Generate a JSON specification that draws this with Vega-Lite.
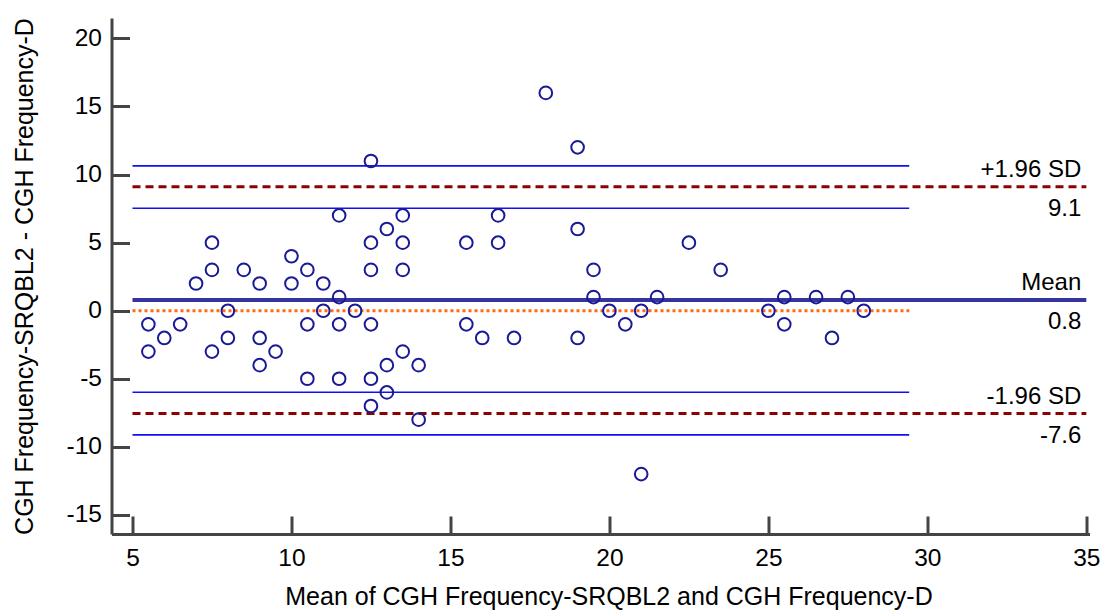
{
  "$schema": "https://vega.github.io/schema/vega-lite/v6.json",
  "width": 978,
  "height": 516,
  "autosize": {"type": "none"},
  "padding": {"left": 111.5, "top": 18, "right": 10, "bottom": 79},
  "background": "white",
  "config": {
    "view": {"stroke": null},
    "font": "Liberation Sans",
    "axis": {
      "grid": false,
      "domainColor": "#444444",
      "domainWidth": 3,
      "tickColor": "#444444",
      "tickWidth": 3,
      "tickSize": -18,
      "labelFont": "Liberation Sans",
      "labelFontSize": 24.5,
      "labelColor": "#000000",
      "labelExpr": "'' + datum.value",
      "titleFont": "Liberation Sans",
      "titleFontSize": 25,
      "titleFontWeight": "normal",
      "titleColor": "#000000"
    }
  },
  "datasets": {
    "points": [
      {"mean": 5.5, "diff": -1}, {"mean": 5.5, "diff": -3}, {"mean": 6, "diff": -2}, {"mean": 6.5, "diff": -1},
      {"mean": 7, "diff": 2}, {"mean": 7.5, "diff": 5}, {"mean": 7.5, "diff": 3}, {"mean": 7.5, "diff": -3},
      {"mean": 8, "diff": 0}, {"mean": 8, "diff": -2}, {"mean": 8.5, "diff": 3}, {"mean": 9, "diff": 2},
      {"mean": 9, "diff": -2}, {"mean": 9, "diff": -4}, {"mean": 9.5, "diff": -3}, {"mean": 10, "diff": 4},
      {"mean": 10, "diff": 2}, {"mean": 10.5, "diff": 3}, {"mean": 10.5, "diff": -1}, {"mean": 10.5, "diff": -5},
      {"mean": 11, "diff": 2}, {"mean": 11, "diff": 0}, {"mean": 11.5, "diff": 7}, {"mean": 11.5, "diff": 1},
      {"mean": 11.5, "diff": -1}, {"mean": 11.5, "diff": -5}, {"mean": 12, "diff": 0}, {"mean": 12.5, "diff": 11},
      {"mean": 12.5, "diff": 5}, {"mean": 12.5, "diff": 3}, {"mean": 12.5, "diff": -1}, {"mean": 12.5, "diff": -5},
      {"mean": 12.5, "diff": -7}, {"mean": 13, "diff": 6}, {"mean": 13, "diff": -4}, {"mean": 13, "diff": -6},
      {"mean": 13.5, "diff": 7}, {"mean": 13.5, "diff": 5}, {"mean": 13.5, "diff": 3}, {"mean": 13.5, "diff": -3},
      {"mean": 14, "diff": -4}, {"mean": 14, "diff": -8}, {"mean": 15.5, "diff": 5}, {"mean": 15.5, "diff": -1},
      {"mean": 16, "diff": -2}, {"mean": 16.5, "diff": 7}, {"mean": 16.5, "diff": 5}, {"mean": 17, "diff": -2},
      {"mean": 18, "diff": 16}, {"mean": 19, "diff": 12}, {"mean": 19, "diff": 6}, {"mean": 19, "diff": -2},
      {"mean": 19.5, "diff": 3}, {"mean": 19.5, "diff": 1}, {"mean": 20, "diff": 0}, {"mean": 20.5, "diff": -1},
      {"mean": 21, "diff": 0}, {"mean": 21, "diff": -12}, {"mean": 21.5, "diff": 1}, {"mean": 22.5, "diff": 5},
      {"mean": 23.5, "diff": 3}, {"mean": 25, "diff": 0}, {"mean": 25.5, "diff": 1}, {"mean": 25.5, "diff": -1},
      {"mean": 26.5, "diff": 1}, {"mean": 27, "diff": -2}, {"mean": 27.5, "diff": 1}, {"mean": 28, "diff": 0}
    ],
    "ci": [
      {"y": 10.64, "x1": 5, "x2": 29.43},
      {"y": 7.53, "x1": 5, "x2": 29.43},
      {"y": -5.99, "x1": 5, "x2": 29.43},
      {"y": -9.12, "x1": 5, "x2": 29.43}
    ],
    "zero": [{"y": 0, "x1": 5, "x2": 29.43}],
    "meanline": [{"y": 0.78, "x1": 5, "x2": 35}],
    "sd": [
      {"y": 9.1, "x1": 5, "x2": 35},
      {"y": -7.55, "x1": 5, "x2": 35}
    ],
    "labels": [
      {"y": 9.1, "top": "+1.96 SD", "bottom": "9.1"},
      {"y": 0.78, "top": "Mean", "bottom": "0.8"},
      {"y": -7.55, "top": "-1.96 SD", "bottom": "-7.6"}
    ]
  },
  "layer": [
    {
      "data": {"name": "ci"},
      "mark": {"type": "rule", "color": "#1010f0", "strokeWidth": 1.6},
      "encoding": {
        "x": {"field": "x1", "type": "quantitative", "scale": {"domain": [4.34, 35.1], "nice": false, "zero": false},
          "axis": {"values": [5, 10, 15, 20, 25, 30, 35], "labelPadding": 30, "title": "Mean of CGH Frequency-SRQBL2 and CGH Frequency-D", "titleY": 70, "titleBaseline": "alphabetic", "titleX": 497}},
        "x2": {"field": "x2"},
        "y": {"field": "y", "type": "quantitative", "scale": {"domain": [-16.4, 21.5], "nice": false, "zero": false},
          "axis": {"values": [-15, -10, -5, 0, 5, 10, 15, 20], "labelPadding": 28, "title": "CGH Frequency-SRQBL2 - CGH Frequency-D", "titleX": -87, "titleBaseline": "middle"}}
      }
    },
    {
      "data": {"name": "zero"},
      "mark": {"type": "rule", "color": "#ff6a10", "strokeWidth": 3, "strokeDash": [3, 3]},
      "encoding": {
        "x": {"field": "x1", "type": "quantitative"},
        "x2": {"field": "x2"},
        "y": {"field": "y", "type": "quantitative"}
      }
    },
    {
      "data": {"name": "sd"},
      "mark": {"type": "rule", "color": "#8b0000", "strokeWidth": 3, "strokeDash": [8, 5]},
      "encoding": {
        "x": {"field": "x1", "type": "quantitative"},
        "x2": {"field": "x2"},
        "y": {"field": "y", "type": "quantitative"}
      }
    },
    {
      "data": {"name": "meanline"},
      "mark": {"type": "rule", "color": "#3434a0", "strokeWidth": 4},
      "encoding": {
        "x": {"field": "x1", "type": "quantitative"},
        "x2": {"field": "x2"},
        "y": {"field": "y", "type": "quantitative"}
      }
    },
    {
      "data": {"name": "points"},
      "mark": {"type": "point", "shape": "circle", "filled": false, "color": "#1a1a96", "strokeWidth": 2, "size": 160, "opacity": 1},
      "encoding": {
        "x": {"field": "mean", "type": "quantitative"},
        "y": {"field": "diff", "type": "quantitative"}
      }
    },
    {
      "data": {"name": "labels"},
      "mark": {"type": "text", "align": "right", "baseline": "middle", "dy": -17, "dx": -5, "fontSize": 24, "color": "#000000", "font": "Liberation Sans"},
      "encoding": {
        "x": {"datum": 35, "type": "quantitative"},
        "y": {"field": "y", "type": "quantitative"},
        "text": {"field": "top"}
      }
    },
    {
      "data": {"name": "labels"},
      "mark": {"type": "text", "align": "right", "baseline": "middle", "dy": 22, "dx": -5, "fontSize": 24, "color": "#000000", "font": "Liberation Sans"},
      "encoding": {
        "x": {"datum": 35, "type": "quantitative"},
        "y": {"field": "y", "type": "quantitative"},
        "text": {"field": "bottom"}
      }
    }
  ]
}
